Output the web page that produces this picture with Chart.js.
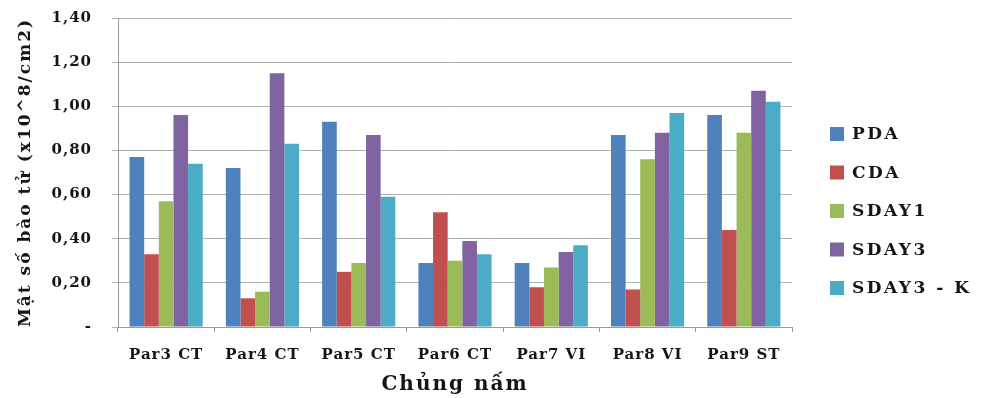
<!DOCTYPE html>
<html>
<head>
<meta charset="utf-8">
<script src="https://cdn.jsdelivr.net/npm/chart.js@4/dist/chart.umd.min.js"></script>
<style>
  html, body { margin: 0; padding: 0; background: #ffffff; }
  #wrap { width: 982px; height: 398px; position: relative; }
</style>
</head>
<body>
<div id="wrap"><canvas id="c" width="982" height="398"></canvas></div>
<script>
// Fungal strains on the x axis
const categories = ['Par3 CT', 'Par4 CT', 'Par5 CT', 'Par6 CT', 'Par7 VI', 'Par8 VI', 'Par9 ST'];

// Spore density per culture medium (x10^8 / cm2)
const seriesNames = ['PDA', 'CDA', 'SDAY1', 'SDAY3', 'SDAY3 - K'];
const pda      = [0.77, 0.72, 0.93, 0.29, 0.29, 0.87, 0.96];
const cda      = [0.33, 0.13, 0.25, 0.52, 0.18, 0.17, 0.44];
const sday1    = [0.57, 0.16, 0.29, 0.30, 0.27, 0.76, 0.88];
const sday3    = [0.96, 1.15, 0.87, 0.39, 0.34, 0.88, 1.07];
const sday3k   = [0.74, 0.83, 0.59, 0.33, 0.37, 0.97, 1.02];

// Y axis tick values and their printed labels
const yTickValues = [0, 0.2, 0.4, 0.6, 0.8, 1.0, 1.2, 1.4];
const yTickLabels = ['-', '0,20', '0,40', '0,60', '0,80', '1,00', '1,20', '1,40'];

const colors = ['#4F81BD', '#C0504D', '#9BBB59', '#8064A2', '#4BACC6'];
const seriesValues = [pda, cda, sday1, sday3, sday3k];

const serif = '"DejaVu Serif", "Liberation Serif", serif';
const ink = '#151515';

const datasets = seriesNames.map((name, i) => ({
  label: name,
  data: seriesValues[i],
  backgroundColor: colors[i],
  borderWidth: 0,
  categoryPercentage: 0.76,
  barPercentage: 1.0
}));

// Wide, loosely spaced lettering: titles are drawn with the grid layer,
// tick labels after the bars, and the legend last.
const lettering = {
  id: 'lettering',
  beforeDraw(chart) { chart.ctx.letterSpacing = '2px'; },
  afterDatasetsDraw(chart) { chart.ctx.letterSpacing = '1px'; },
  afterDraw(chart) { chart.ctx.letterSpacing = '0px'; }
};

// Legend drawn at the right of the plot
const sideLegend = {
  id: 'sideLegend',
  afterDraw(chart) {
    const ctx = chart.ctx;
    ctx.save();
    const x0 = 830, y0 = 134, step = 38.5, box = 14;
    ctx.font = 'bold 17px ' + serif;
    ctx.letterSpacing = '2.5px';
    ctx.textBaseline = 'middle';
    ctx.textAlign = 'left';
    chart.data.datasets.forEach((ds, i) => {
      const y = y0 + i * step;
      ctx.fillStyle = ds.backgroundColor;
      ctx.fillRect(x0, y - box / 2, box, box);
      ctx.fillStyle = ink;
      ctx.fillText(ds.label, x0 + 22, y + 1);
    });
    ctx.restore();
  }
};

new Chart(document.getElementById('c'), {
  type: 'bar',
  data: { labels: categories, datasets },
  options: {
    responsive: false,
    animation: false,
    devicePixelRatio: 1,
    layout: { padding: { left: 10, right: 190, top: 18, bottom: 0 } },
    plugins: {
      legend: { display: false },
      tooltip: { enabled: false }
    },
    scales: {
      x: {
        grid: { drawOnChartArea: false, drawTicks: true, tickLength: 5, offset: true, color: '#9a9a9a' },
        border: { color: '#9a9a9a', width: 1 },
        ticks: { z: 1, color: ink, font: { family: serif, size: 15, weight: 'bold' }, padding: 14, maxRotation: 0, autoSkip: false },
        title: { display: true, text: 'Chủng nấm', color: ink, font: { family: serif, size: 20, weight: 'bold' }, padding: { top: 0, bottom: 1 } },
        afterFit(scale) { scale.height = 71; }
      },
      y: {
        min: 0,
        max: 1.4,
        afterBuildTicks(scale) { scale.ticks = yTickValues.map(v => ({ value: v })); },
        grid: { color: '#b0b0b0', lineWidth: 1, drawTicks: true, tickLength: 6 },
        border: { color: '#9a9a9a', width: 1 },
        ticks: {
          z: 1,
          color: ink,
          font: { family: serif, size: 15, weight: 'bold' },
          padding: 20,
          callback(value) {
            const idx = yTickValues.findIndex(v => Math.abs(v - value) < 1e-6);
            return idx >= 0 ? yTickLabels[idx] : '';
          }
        },
        title: { display: true, text: 'Mật số bào tử (x10^8/cm2)', color: ink, font: { family: serif, size: 17, weight: 'bold' }, padding: { top: 5, bottom: 0 } },
        afterFit(scale) {
          scale.width = 108;
          scale.paddingTop = 0;
          scale.paddingBottom = 0;
        }
      }
    }
  },
  plugins: [lettering, sideLegend]
});
</script>
</body>
</html>
